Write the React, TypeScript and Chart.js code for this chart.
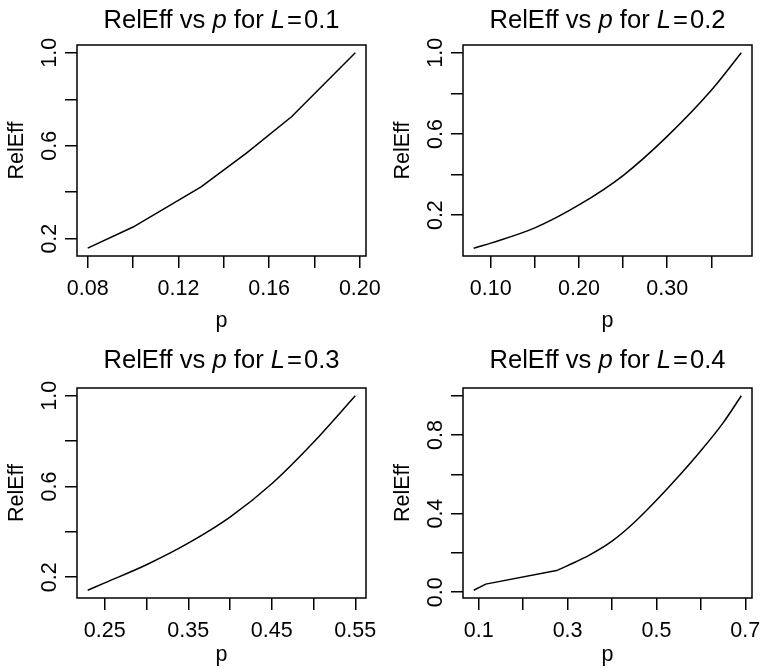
import React, { useEffect, useRef } from "react";
import { Chart, registerables } from "chart.js";
Chart.register(...registerables);

// ---------- data ----------
const lValues = ["0.1", "0.2", "0.3", "0.4"];

const p1 = [0.08, 0.1, 0.13, 0.15, 0.17, 0.198];
const eff1 = [0.159, 0.25, 0.423, 0.568, 0.726, 1.0];

const p2 = [0.0807, 0.1, 0.15, 0.2, 0.25, 0.3, 0.35, 0.384];
const eff2 = [0.037, 0.062, 0.137, 0.25, 0.395, 0.588, 0.815, 1.0];

const p3 = [0.2296, 0.25, 0.3, 0.35, 0.4, 0.45, 0.5, 0.55];
const eff3 = [0.1425, 0.175, 0.255, 0.35, 0.465, 0.612, 0.795, 1.0];

const p4a = [0.0887, 0.1158, 0.278];
const eff4a = [0.01, 0.041, 0.112];
const p4b = [0.278, 0.3, 0.35, 0.4, 0.45, 0.5, 0.55, 0.6, 0.65, 0.691];
const eff4b = [0.112, 0.135, 0.19, 0.26, 0.355, 0.468, 0.59, 0.72, 0.862, 1.0];

const xTicks1 = [0.08, 0.1, 0.12, 0.14, 0.16, 0.18, 0.2];
const xLabels1 = ["0.08", "", "0.12", "", "0.16", "", "0.20"];
const xTicks2 = [0.1, 0.15, 0.2, 0.25, 0.3, 0.35];
const xLabels2 = ["0.10", "", "0.20", "", "0.30", ""];
const xTicks3 = [0.25, 0.3, 0.35, 0.4, 0.45, 0.5, 0.55];
const xLabels3 = ["0.25", "", "0.35", "", "0.45", "", "0.55"];
const xTicks4 = [0.1, 0.2, 0.3, 0.4, 0.5, 0.6, 0.7];
const xLabels4 = ["0.1", "", "0.3", "", "0.5", "", "0.7"];

const yTicksA = [0.2, 0.4, 0.6, 0.8, 1.0];
const yLabelsA = ["0.2", "", "0.6", "", "1.0"];
const yTicks4 = [0.0, 0.2, 0.4, 0.6, 0.8, 1.0];
const yLabels4 = ["0.0", "", "0.4", "", "0.8", ""];

const xTitle = "p";
const yTitle = "RelEff";

// ---------- layout / style ----------
const FAMILY = "'Liberation Sans', Arial, Helvetica, sans-serif";
const TICK_SIZE = 21.5;
const TITLE_SIZE = 25.6;
const INK = "#000";

type Series = { x: number[]; y: number[]; smooth: boolean };
type PanelCfg = {
  L: string;
  series: Series[];
  xTicks: number[];
  xLabels: string[];
  yTicks: number[];
  yLabels: string[];
  pos: { left: number; top: number; w: number; h: number };
  area: { left: number; top: number; right: number; xAxisH: number };
  titleBaseline: number;
};

const panels: PanelCfg[] = [
  {
    L: lValues[0],
    series: [{ x: p1, y: eff1, smooth: false }],
    xTicks: xTicks1, xLabels: xLabels1, yTicks: yTicksA, yLabels: yLabelsA,
    pos: { left: 0, top: 0, w: 381, h: 335 },
    area: { left: 77, top: 45, right: 15, xAxisH: 79 },
    titleBaseline: 28,
  },
  {
    L: lValues[1],
    series: [{ x: p2, y: eff2, smooth: true }],
    xTicks: xTicks2, xLabels: xLabels2, yTicks: yTicksA, yLabels: yLabelsA,
    pos: { left: 381, top: 0, w: 381, h: 335 },
    area: { left: 82, top: 45, right: 10, xAxisH: 79 },
    titleBaseline: 28,
  },
  {
    L: lValues[2],
    series: [{ x: p3, y: eff3, smooth: true }],
    xTicks: xTicks3, xLabels: xLabels3, yTicks: yTicksA, yLabels: yLabelsA,
    pos: { left: 0, top: 335, w: 381, h: 334 },
    area: { left: 77, top: 53, right: 15, xAxisH: 71 },
    titleBaseline: 33,
  },
  {
    L: lValues[3],
    series: [
      { x: p4a, y: eff4a, smooth: false },
      { x: p4b, y: eff4b, smooth: true },
    ],
    xTicks: xTicks4, xLabels: xLabels4, yTicks: yTicks4, yLabels: yLabels4,
    pos: { left: 381, top: 335, w: 381, h: 334 },
    area: { left: 82, top: 53, right: 10, xAxisH: 71 },
    titleBaseline: 33,
  },
];

function paddedRange(vals: number[]) {
  const lo = Math.min(...vals);
  const hi = Math.max(...vals);
  const d = (hi - lo) * 0.04;
  return { min: lo - d, max: hi + d };
}

const boxTitlePlugin = {
  id: "boxTitle",
  afterDraw(chart: any) {
    const cfg: PanelCfg = chart.options.plugins.boxTitle.cfg;
    const { ctx, chartArea } = chart;
    ctx.save();
    ctx.strokeStyle = INK;
    ctx.lineWidth = 1.5;
    ctx.strokeRect(chartArea.left, chartArea.top, chartArea.right - chartArea.left, chartArea.bottom - chartArea.top);

    const normal = `${TITLE_SIZE}px ${FAMILY}`;
    const italic = `italic ${TITLE_SIZE}px ${FAMILY}`;
    const parts: [string, string, number][] = [
      ["RelEff vs ", normal, 0],
      ["p", italic, 0],
      [" for ", normal, 0],
      ["L", italic, 2],
      ["=", normal, 2],
      [cfg.L, normal, 0],
    ];
    let total = 0;
    const widths = parts.map(([t, f, g]) => {
      ctx.font = f;
      const w = ctx.measureText(t).width + g;
      total += w;
      return w;
    });
    let x = (chartArea.left + chartArea.right) / 2 - total / 2;
    ctx.fillStyle = INK;
    ctx.textBaseline = "alphabetic";
    ctx.textAlign = "left";
    parts.forEach(([t, f], i) => {
      ctx.font = f;
      ctx.fillText(t, x, cfg.titleBaseline);
      x += widths[i];
    });
    ctx.restore();
  },
};

function Panel({ cfg }: { cfg: PanelCfg }) {
  const ref = useRef<HTMLCanvasElement | null>(null);
  useEffect(() => {
    const xr = paddedRange(cfg.series.flatMap((s) => s.x));
    const yr = paddedRange(cfg.series.flatMap((s) => s.y));
    const tickFont = { family: FAMILY, size: TICK_SIZE, lineHeight: 1.2 };
    const grid = {
      display: true,
      drawOnChartArea: false,
      drawTicks: true,
      tickLength: 12,
      color: INK,
      lineWidth: 1.5,
    };
    const chart = new Chart(ref.current as HTMLCanvasElement, {
      type: "line",
      data: {
        datasets: cfg.series.map((s) => ({
          data: s.x.map((x, i) => ({ x, y: s.y[i] })),
          borderColor: INK,
          borderWidth: 1.5,
          pointRadius: 0,
          fill: false,
          tension: 0,
          cubicInterpolationMode: s.smooth ? "monotone" : "default",
        })),
      },
      options: {
        responsive: false,
        animation: false,
        devicePixelRatio: 1,
        layout: { padding: { left: 0, top: cfg.area.top, right: cfg.area.right, bottom: 0 } },
        plugins: {
          legend: { display: false },
          tooltip: { enabled: false },
          title: { display: false },
          boxTitle: { cfg },
        } as any,
        scales: {
          x: {
            type: "linear",
            min: xr.min,
            max: xr.max,
            afterBuildTicks: (s: any) => {
              s.ticks = cfg.xTicks.map((v) => ({ value: v }));
            },
            afterFit: (s: any) => {
              s.height = cfg.area.xAxisH;
              s.paddingLeft = 0;
              s.paddingRight = 0;
            },
            ticks: {
              autoSkip: false,
              minRotation: 0,
              maxRotation: 0,
              padding: 8.5,
              color: INK,
              font: tickFont,
              callback: (_v: any, i: number) => cfg.xLabels[i],
            },
            grid,
            border: { display: false },
            title: {
              display: true,
              text: xTitle,
              color: INK,
              font: tickFont,
              padding: { top: 0, bottom: 1.5 },
            },
          },
          y: {
            type: "linear",
            min: yr.min,
            max: yr.max,
            afterBuildTicks: (s: any) => {
              s.ticks = cfg.yTicks.map((v) => ({ value: v }));
            },
            afterFit: (s: any) => {
              s.width = cfg.area.left;
              s.paddingTop = 0;
              s.paddingBottom = 0;
            },
            ticks: {
              autoSkip: false,
              minRotation: 90,
              maxRotation: 90,
              crossAlign: "center",
              padding: 0,
              color: INK,
              font: tickFont,
              callback: (_v: any, i: number) => cfg.yLabels[i],
            },
            grid,
            border: { display: false },
            title: {
              display: true,
              text: yTitle,
              color: INK,
              font: tickFont,
              padding: { top: cfg.area.left - 60 - 12.9, bottom: 0 },
            },
          },
        } as any,
      },
      plugins: [boxTitlePlugin],
    } as any);
    return () => chart.destroy();
  }, [cfg]);
  return (
    <canvas
      ref={ref}
      width={cfg.pos.w}
      height={cfg.pos.h}
      style={{
        position: "absolute",
        left: cfg.pos.left,
        top: cfg.pos.top,
        width: cfg.pos.w,
        height: cfg.pos.h,
      }}
    />
  );
}

export default function App() {
  return (
    <div
      style={{
        position: "absolute",
        left: 0,
        top: 0,
        width: 762,
        height: 669,
        background: "#fff",
        overflow: "hidden",
      }}
    >
      {panels.map((p, i) => (
        <Panel key={i} cfg={p} />
      ))}
    </div>
  );
}
